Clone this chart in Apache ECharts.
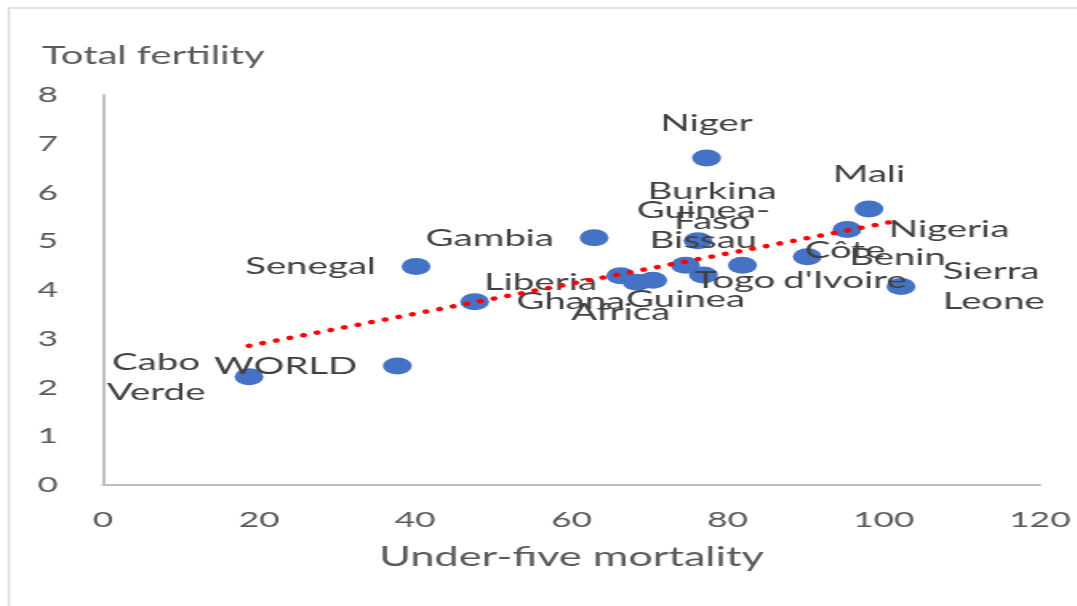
<!DOCTYPE html>
<html>
<head>
<meta charset="utf-8">
<script src="https://cdn.jsdelivr.net/npm/echarts@6/dist/echarts.min.js"></script>
<style>
html, body { margin: 0; padding: 0; background: #fff; overflow: hidden; }
/* the reference is stretched sideways, so draw narrow and stretch the whole chart */
#chart { width: 673px; height: 606px; transform: scaleX(1.6); transform-origin: 0 0; }
</style>
</head>
<body>
<div id="chart"></div>
<script>
const STRETCH = 1.6

const countries = ['Cabo Verde', 'WORLD', 'Senegal', 'Ghana', 'Gambia', 'Africa', 'Liberia', 'Togo', 'Guinea',
	'Guinea-Bissau', 'Burkina Faso', 'Niger', "Côte d'Ivoire", 'Benin', 'Nigeria', 'Mali', 'Sierra Leone']
const mortality = [18.7, 37.7, 40.1, 47.6, 62.9, 66.3, 68.4, 70.4, 74.6, 76.9, 76.2, 77.3, 81.9, 90.2, 95.3, 98.1, 102.2]
const fertility = [2.22, 2.44, 4.48, 3.76, 5.07, 4.29, 4.16, 4.20, 4.51, 4.31, 5.01, 6.71, 4.51, 4.68, 5.24, 5.66, 4.07]
const xTicks = [0, 20, 40, 60, 80, 100, 120]
const yTicks = [0, 1, 2, 3, 4, 5, 6, 7, 8]

// where each data label sits round its point
const labelPlace = {
	'Cabo Verde': { position: 'left', align: 'center', distance: 49 },
	WORLD: { position: 'left' },
	Senegal: { position: 'left' },
	Ghana: { position: 'right' },
	Gambia: { position: 'left' },
	Africa: { position: 'bottom', distance: 13 },
	Liberia: { position: 'left' },
	Togo: { position: 'right' },
	Guinea: { position: 'bottom' },
	'Guinea-Bissau': { position: 'top' },
	'Burkina Faso': { position: [18, -26], align: 'center', verticalAlign: 'middle' },
	Niger: { position: 'top' },
	"Côte d'Ivoire": { position: 'right', align: 'center', distance: 55 },
	Benin: { position: 'right' },
	Nigeria: { position: 'right' },
	Mali: { position: 'top' },
	'Sierra Leone': { position: 'right' },
}
const sideGap = { left: 16, right: 17, top: 11, bottom: 11 }

const points = countries.map((name, i) => {
	const place = labelPlace[name]
	return {
		name: name,
		value: [mortality[i], fertility[i]],
		label: Object.assign({ distance: sideGap[place.position] || 0 }, place),
	}
})

// linear trendline, least squares over all points
const n = mortality.length
const meanX = mortality.reduce((a, b) => a + b, 0) / n
const meanY = fertility.reduce((a, b) => a + b, 0) / n
let sxy = 0
let sxx = 0
for (let i = 0; i < n; i++) {
	sxy += (mortality[i] - meanX) * (fertility[i] - meanY)
	sxx += (mortality[i] - meanX) ** 2
}
const slope = sxy / sxx
const intercept = meanY - slope * meanX
const xMin = Math.min(...mortality)
const xMax = Math.max(...mortality)
const trend = [
	[xMin, intercept + slope * xMin],
	[xMax, intercept + slope * xMax],
]

const myChart = echarts.init(document.getElementById('chart'))
const textFont = 'Lato, "Noto Sans", sans-serif'

const option = {
	animation: false,
	textStyle: { fontFamily: textFont },
	graphic: [
		{
			type: 'rect',
			shape: { x: 9 / STRETCH, y: 8, width: 1200, height: 800 },
			style: { fill: 'none', stroke: '#d9d9d9', lineWidth: 1.4 },
			silent: true,
		},
	],
	title: {
		text: 'Total fertility',
		left: 42 / STRETCH - 5,
		top: 38,
		textStyle: { fontFamily: textFont, fontSize: 25, fontWeight: 'normal', color: '#595959' },
	},
	grid: { left: 103 / STRETCH, right: 673 - 1040 / STRETCH, top: 95, bottom: 121 },
	xAxis: {
		type: 'value',
		min: xTicks[0],
		max: xTicks[xTicks.length - 1],
		interval: xTicks[1] - xTicks[0],
		name: 'Under-five mortality',
		nameLocation: 'middle',
		nameGap: 59,
		nameTextStyle: { fontSize: 27, color: '#595959' },
		axisLine: { show: true, lineStyle: { color: '#bfbfbf', width: 2 } },
		axisTick: { show: false },
		splitLine: { show: false },
		axisLabel: { fontSize: 22, color: '#595959', margin: 24 },
	},
	yAxis: {
		type: 'value',
		min: yTicks[0],
		max: yTicks[yTicks.length - 1],
		interval: yTicks[1] - yTicks[0],
		axisLine: { show: true, lineStyle: { color: '#bfbfbf', width: 2 } },
		axisTick: { show: false },
		splitLine: { show: false },
		axisLabel: { fontSize: 22, color: '#595959', margin: 28 },
	},
	series: [
		{
			name: 'Trend',
			type: 'line',
			data: trend,
			showSymbol: false,
			silent: true,
			lineStyle: { color: '#ff0000', width: 4.5, type: [0.1, 8.8], cap: 'round' },
			z: 3,
		},
		{
			name: 'Countries',
			type: 'scatter',
			data: points,
			symbolSize: [29 / STRETCH, 17],
			itemStyle: { color: '#4472c4', opacity: 1 },
			label: {
				show: true,
				formatter: (p) => p.name.replace('-', '-\n').replace(' ', '\n'),
				fontSize: 24,
				lineHeight: 30,
				color: '#404040',
			},
			labelLayout: { hideOverlap: false },
			z: 2,
		},
	],
}

option && myChart.setOption(option)
</script>
</body>
</html>
